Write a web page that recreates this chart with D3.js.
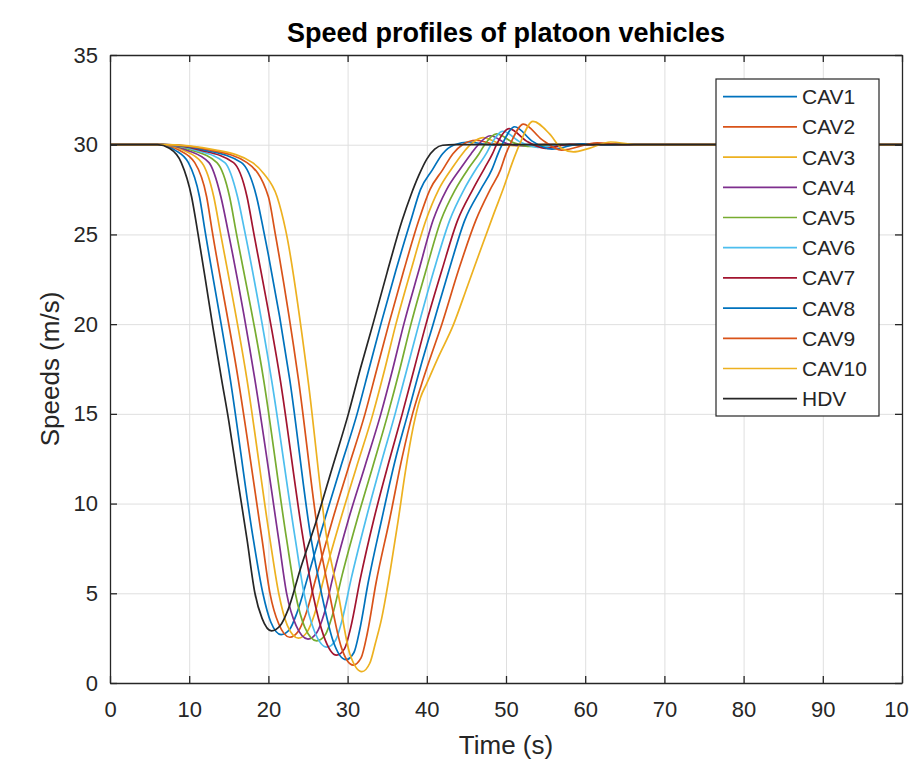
<!DOCTYPE html>
<html>
<head>
<meta charset="utf-8">
<script src="https://cdn.jsdelivr.net/npm/d3@7"></script>
<style>
  html, body { margin: 0; padding: 0; background: #fff; }
  svg { display: block; font-family: "Liberation Sans", Arial, Helvetica, sans-serif; }
</style>
</head>
<body>
<svg id="chart" width="909" height="760"></svg>
<script>
// ---------------- data (time s, speed m/s) ----------------
const seriesNames = ["CAV1","CAV2","CAV3","CAV4","CAV5","CAV6","CAV7","CAV8","CAV9","CAV10","HDV"];
const xTicks = [0,10,20,30,40,50,60,70,80,90,100];
const yTicks = [0,5,10,15,20,25,30,35];

const cav1 = [[0,30],[6.5,30],[8.2,29.7],[9.9,29.0],[11.3,27.1],[12.0,25.2],[15.2,16.9],[18.1,8.0],[19.3,5.0],[20.3,3.4],[21.6,2.7],
  [22.7,3.0],[23.6,3.9],[25.1,6.1],[27.1,9.1],[29.1,12.0],[31.2,15.0],[32.7,17.5],[34.2,20.0],[36.1,23.0],[38.0,25.8],[39.2,27.5],
  [40.7,28.6],[42.0,29.5],[43.5,30.0],[45.3,30.15],[47.5,30.02],[49.5,29.98],[52,30],[100,30]];
const cav2 = [[0,30],[6.5,30],[8.7,29.7],[10.7,29.0],[12.2,27.1],[12.9,25.2],[16.2,16.9],[19.2,8.0],[20.2,5.0],[21.3,3.3],[22.7,2.55],
  [23.8,2.9],[24.7,3.8],[26.1,6.0],[28.1,9.1],[30.1,12.0],[32.2,15.0],[33.7,17.5],[35.2,20.0],[37.1,23.0],[39.0,25.8],[40.4,27.5],
  [42.0,28.6],[43.3,29.5],[44.5,30.0],[46.2,30.25],[48.5,30.03],[50.5,29.97],[53,30],[100,30]];
const cav3 = [[0,30],[6.5,30],[9.2,29.7],[11.6,29.0],[13.1,27.1],[13.9,25.2],[17.3,16.9],[20.2,8.0],[21.3,5.0],[22.4,3.2],[23.8,2.5],
  [24.9,2.85],[25.8,3.8],[27.1,6.0],[29.1,9.1],[31.1,12.0],[33.2,15.0],[34.7,17.5],[36.1,20.0],[38.0,23.0],[39.9,25.8],[41.5,27.5],
  [43.2,28.7],[44.5,29.5],[45.5,30.0],[47.1,30.4],[49.3,30.05],[51.5,29.95],[54,30],[100,30]];
const cav4 = [[0,30],[6.5,30],[9.7,29.7],[12.5,29.0],[14.0,27.1],[14.9,25.2],[18.3,16.9],[21.3,8.0],[22.3,5.0],[23.5,3.2],[25.0,2.45],
  [26.1,2.8],[27.0,3.8],[28.2,6.0],[30.1,9.1],[32.2,12.1],[34.2,15.0],[35.7,17.5],[37.1,20.0],[39.0,23.0],[40.8,25.8],[42.5,27.5],
  [44.3,28.7],[45.6,29.5],[46.5,30.0],[48.0,30.5],[50.2,30.05],[52.3,29.93],[55,30],[100,30]];
const cav5 = [[0,30],[6.5,30],[10.3,29.7],[13.5,29.0],[15.1,27.1],[15.9,25.2],[19.4,16.9],[22.3,8.0],[23.4,5.0],[24.6,3.1],[26.1,2.35],
  [27.2,2.7],[28.1,3.8],[29.3,6.0],[31.2,9.1],[33.2,12.1],[35.1,15.0],[36.6,17.5],[38.0,20.0],[39.9,23.0],[41.8,25.8],[43.6,27.5],
  [45.3,28.7],[46.6,29.5],[47.3,30.0],[48.8,30.6],[51.0,30.1],[53.2,29.9],[56,30],[100,30]];
const cav6 = [[0,30],[6.5,30],[10.8,29.7],[14.5,29.0],[16.1,27.1],[17.0,25.2],[20.4,16.9],[23.4,8.0],[24.5,5.0],[25.8,2.9],[27.4,2.0],
  [28.5,2.4],[29.3,3.5],[30.5,5.9],[32.3,9.1],[34.2,12.2],[36.0,15.0],[37.5,17.5],[39.0,20.0],[40.9,23.0],[42.9,25.8],[44.7,27.5],
  [46.3,28.7],[47.5,29.5],[48.1,30.0],[49.6,30.75],[51.8,30.15],[54.0,29.85],[57,30],[100,30]];
const cav7 = [[0,30],[6.5,30],[11.4,29.7],[15.6,29.0],[17.3,27.1],[18.1,25.2],[21.5,16.9],[24.4,8.0],[25.6,5.0],[27.0,2.6],[28.6,1.55],
  [29.6,1.9],[30.4,3.1],[31.6,5.8],[33.3,9.1],[35.2,12.3],[36.9,15.0],[38.4,17.5],[39.9,20.0],[41.9,23.0],[43.9,25.8],[45.8,27.5],
  [47.3,28.7],[48.3,29.5],[48.8,30.0],[50.4,30.9],[52.6,30.2],[55.0,29.8],[58,30.02],[61,30],[100,30]];
const cav8 = [[0,30],[6.5,30],[12.0,29.7],[16.6,29.0],[18.5,27.1],[19.4,25.2],[22.7,16.9],[25.4,8.0],[26.7,5.0],[28.2,2.3],[29.8,1.3],
  [30.8,1.7],[31.5,2.9],[32.6,5.6],[34.3,9.1],[36.0,12.4],[37.6,15.0],[39.2,17.6],[40.8,20.0],[42.8,23.0],[44.8,25.8],[46.8,27.5],
  [48.2,28.6],[49.0,29.5],[49.5,30.0],[51.1,31.0],[53.3,30.2],[55.8,29.75],[59.5,30.05],[63,30],[100,30]];
const cav9 = [[0,30],[6.5,30],[12.7,29.7],[17.3,29.0],[20.0,27.1],[20.8,25.2],[23.8,16.9],[26.4,8.0],[27.7,5.0],[29.2,2.0],[30.7,1.0],
  [31.7,1.4],[32.5,2.8],[33.6,5.6],[35.3,9.1],[36.9,12.6],[38.2,15.0],[39.3,16.6],[40.5,18.2],[41.9,20.0],[44.0,23.0],[46.2,25.8],
  [48.0,27.5],[49.3,28.6],[50.0,29.5],[50.5,30.0],[52.2,31.15],[54.5,30.3],[57.0,29.7],[61.5,30.1],[65,30],[100,30]];
const cav10 = [[0,30],[6.5,30],[13.4,29.7],[18.0,29.0],[19.4,28.4],[21.1,27.1],[22.2,25.2],[25.0,16.9],[27.4,8.0],[28.8,5.0],[30.3,1.6],[31.8,0.63],
  [32.8,1.1],[33.5,2.2],[34.3,3.6],[35.4,6.3],[36.4,9.1],[37.3,11.8],[38.3,14.3],[39.2,15.9],[40.0,16.7],[41.5,18.2],[43.3,19.9],
  [45.2,22.2],[47.0,24.4],[48.5,26.2],[49.7,27.6],[50.8,29.0],[51.7,30.0],[53.4,31.3],[55.5,30.6],[57.0,29.8],[58.5,29.6],[60.5,29.8],
  [63.2,30.15],[66.5,30.0],[100,30]];
const hdv = [[0,30],[6.0,30],[7.5,29.8],[9.0,29.0],[10.3,27.1],[11.05,25.2],[12.0,22.6],[13.0,19.8],[14.1,16.9],[15.0,14.6],[16.0,11.7],
  [17.3,8.0],[18.3,5.0],[19.2,3.6],[20.4,2.9],[21.5,3.2],[22.5,4.1],[24.0,6.3],[26.1,9.1],[28.0,11.9],[30.1,15.0],[31.6,17.5],
  [33.2,20.0],[35.0,22.9],[36.9,25.8],[38.0,27.2],[39.0,28.3],[40.0,29.2],[41.0,29.75],[42.0,29.97],[43.5,30],[100,30]];

const seriesData = [cav1,cav2,cav3,cav4,cav5,cav6,cav7,cav8,cav9,cav10,hdv];
const seriesColors = ["#0072BD","#D95319","#EDB120","#7E2F8E","#77AC30","#4DBEEE","#A2142F","#0072BD","#D95319","#EDB120","#262626"];

// ---------------- layout ----------------
const L = 110, R = 902, T = 55, B = 683;
const ink = "#262626";
const svg = d3.select("#chart");

const x = d3.scaleLinear().domain([0,100]).range([L,R]);
const y = d3.scaleLinear().domain([0,35]).range([B,T]);

svg.append("rect").attr("x",L).attr("y",T).attr("width",R-L).attr("height",B-T).attr("fill","#fff");

// grid
const gx = svg.append("g").attr("transform",`translate(0,${B})`)
  .call(d3.axisBottom(x).tickValues(xTicks).tickSize(-(B-T)).tickFormat(""));
const gy = svg.append("g").attr("transform",`translate(${L},0)`)
  .call(d3.axisLeft(y).tickValues(yTicks).tickSize(-(R-L)).tickFormat(""));
[gx,gy].forEach(g => {
  g.select(".domain").remove();
  g.selectAll("line").attr("stroke","#dfdfdf").attr("stroke-width",1);
});

// lines
const line = d3.line().x(d => x(d[0])).y(d => y(d[1])).curve(d3.curveMonotoneX);
const plot = svg.append("g");
seriesData.forEach((s,i) => {
  plot.append("path").datum(s).attr("d",line)
    .attr("fill","none").attr("stroke",seriesColors[i]).attr("stroke-width",1.7)
    .attr("stroke-linejoin","round");
});

// axes
function styleAxis(g, fs){
  g.select(".domain").attr("stroke",ink).attr("stroke-width",1.3);
  g.selectAll(".tick line").attr("stroke",ink).attr("stroke-width",1.3);
  g.selectAll(".tick text").attr("fill",ink).attr("font-size",fs).attr("font-family","Liberation Sans, Arial, sans-serif");
}
const xAxis = svg.append("g").attr("transform",`translate(0,${B})`)
  .call(d3.axisBottom(x).tickValues(xTicks).tickSizeInner(-7).tickSizeOuter(0).tickPadding(18));
styleAxis(xAxis,22);
const yAxis = svg.append("g").attr("transform",`translate(${L},0)`)
  .call(d3.axisLeft(y).tickValues(yTicks).tickSizeInner(-7).tickSizeOuter(0).tickPadding(12));
styleAxis(yAxis,22);
const topAxis = svg.append("g").attr("transform",`translate(0,${T})`)
  .call(d3.axisTop(x).tickValues(xTicks).tickSizeInner(-7).tickSizeOuter(0).tickFormat(""));
styleAxis(topAxis,22);
const rightAxis = svg.append("g").attr("transform",`translate(${R},0)`)
  .call(d3.axisRight(y).tickValues(yTicks).tickSizeInner(-7).tickSizeOuter(0).tickFormat(""));
styleAxis(rightAxis,22);

// title and labels
svg.append("text").attr("x",(L+R)/2).attr("y",42).attr("text-anchor","middle")
  .attr("font-size",27).attr("font-weight","bold").attr("fill","#000")
  .text("Speed profiles of platoon vehicles");
svg.append("text").attr("x",(L+R)/2).attr("y",754).attr("text-anchor","middle")
  .attr("font-size",26).attr("fill",ink).text("Time (s)");
svg.append("text").attr("transform",`translate(59,${(T+B)/2}) rotate(-90)`).attr("text-anchor","middle")
  .attr("font-size",26).attr("fill",ink).text("Speeds (m/s)");

// legend
const lg = svg.append("g");
lg.append("rect").attr("x",716).attr("y",79).attr("width",163).attr("height",337)
  .attr("fill","#fff").attr("stroke",ink).attr("stroke-width",1.2);
seriesNames.forEach((n,i) => {
  const yy = 96.7 + i*30.2;
  lg.append("line").attr("x1",723).attr("x2",797).attr("y1",yy).attr("y2",yy)
    .attr("stroke",seriesColors[i]).attr("stroke-width",1.7);
  lg.append("text").attr("x",802).attr("y",yy).attr("dy","0.36em")
    .attr("font-size",21).attr("fill",ink).text(n);
});
</script>
</body>
</html>
